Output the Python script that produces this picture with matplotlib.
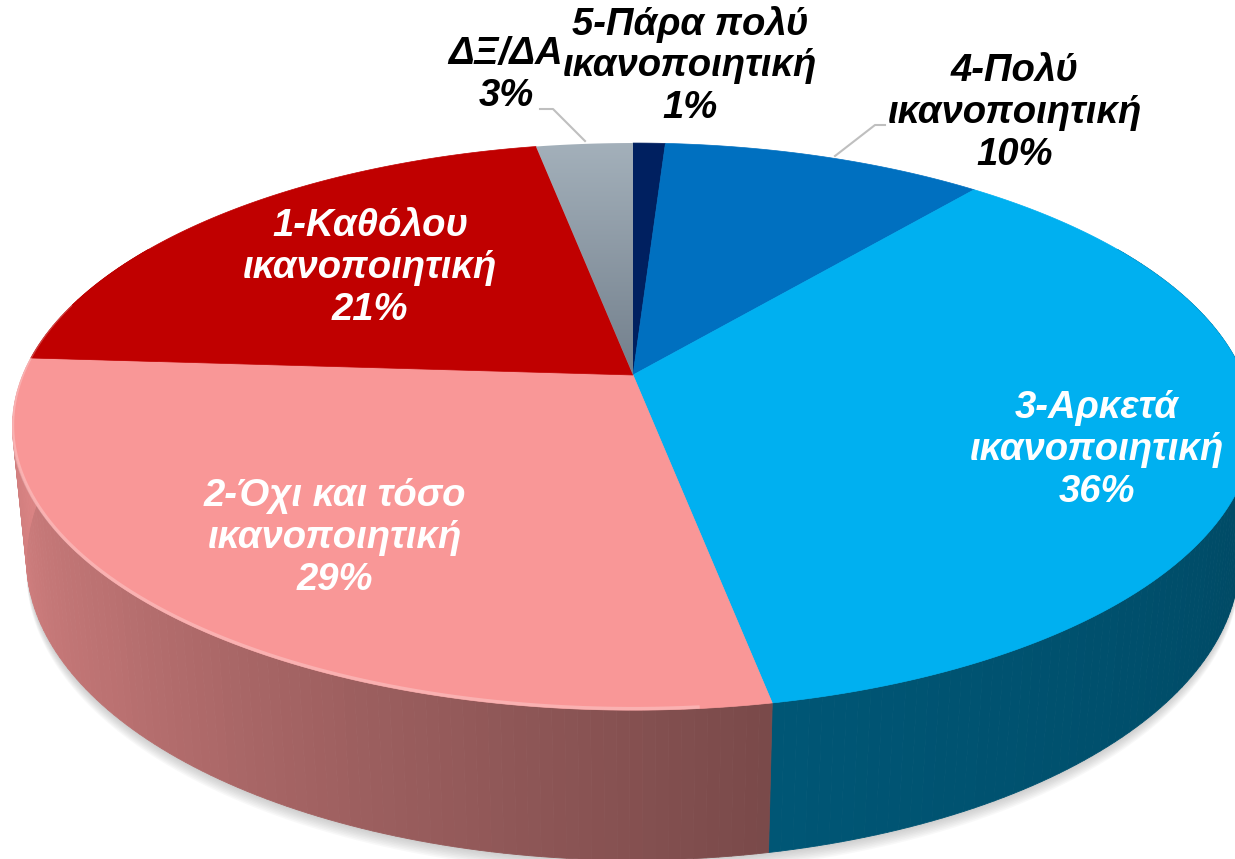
import numpy as np
import matplotlib
matplotlib.use('Agg')
import matplotlib.pyplot as plt
from matplotlib.patches import Polygon

# data, clockwise from 12 o'clock
categories = ['5-Πάρα πολύ\nικανοποιητική', '4-Πολύ\nικανοποιητική', '3-Αρκετά\nικανοποιητική',
              '2-Όχι και τόσο\nικανοποιητική', '1-Καθόλου\nικανοποιητική', 'ΔΞ/ΔΑ']
values = [1, 10, 36, 29, 21, 3]
pct_labels = ['1%', '10%', '36%', '29%', '21%', '3%']

colors = ['#002060', '#0070C0', '#00B0F0', '#F99797', '#C00000', '#9AA9B5']
text_colors = ['black', 'black', 'white', 'white', 'white', 'black']
# label centres in pixels (layout)
label_pos = [(690, 66), (1015, 113), (1097, 450), (335, 538), (370, 268), (506, 75)]

# camera for the 3d look
elev = np.radians(26.7)
D, S, CX, CY, H = 4.91, 2996.0, 633.0, 375.0, 0.245
ce, se = np.cos(elev), np.sin(elev)


def project(phi, r=1.0, z=0.0):
    X = r * np.sin(phi)
    Y = r * np.cos(phi)
    rely = Y + D * ce
    relz = z - D * se
    depth = rely * ce - relz * se
    up = rely * se + relz * ce
    return CX + S * X / depth, CY - S * up / depth


def side_shade(phi):
    return np.interp(np.degrees(phi), [90, 170, 230, 270], [0.40, 0.49, 0.75, 0.88])


W, Hpx = 1235, 859
fig = plt.figure(figsize=(W / 100, Hpx / 100), dpi=100)
ax = fig.add_axes([0, 0, 1, 1])
ax.set_xlim(0, W)
ax.set_ylim(Hpx, 0)
ax.axis('off')

fracs = np.array(values) / np.sum(values)
edges = np.concatenate([[0], np.cumsum(fracs)]) * 2 * np.pi

# soft shadow under the pie
ph = np.linspace(np.radians(70), np.radians(290), 200)
bx, by = project(ph, 1.0, -H)
for k in range(8):
    off = 2 + k * 1.6
    ax.add_patch(Polygon(np.column_stack([np.r_[bx, bx[::-1]], np.r_[by + off, by[::-1] - 40]]),
                         closed=True, facecolor='#808080', edgecolor='none', alpha=0.05, zorder=1))

# side walls
for i in range(len(values)):
    a, b = edges[i], edges[i + 1]
    lo, hi = max(a, np.radians(60)), min(b, np.radians(300))
    if hi <= lo:
        continue
    n = max(2, int(np.degrees(hi - lo)) + 1)
    ts = np.linspace(lo, hi, n)
    base = np.array(matplotlib.colors.to_rgb(colors[i]))
    for t0, t1 in zip(ts[:-1], ts[1:]):
        x0, y0 = project(t0)
        x1, y1 = project(t1)
        x2, y2 = project(t1, 1.0, -H)
        x3, y3 = project(t0, 1.0, -H)
        c = np.clip(base * side_shade((t0 + t1) / 2), 0, 1)
        ax.add_patch(Polygon([(x0, y0), (x1, y1), (x2, y2), (x3, y3)], closed=True,
                             facecolor=c, edgecolor=c, linewidth=0.6, zorder=2))

# top face
for i in range(len(values)):
    a, b = edges[i], edges[i + 1]
    ts = np.linspace(a, b, max(3, int(np.degrees(b - a)) * 2))
    rx, ry = project(ts)
    pts = np.column_stack([np.r_[CX, rx], np.r_[CY, ry]])
    if categories[i] == 'ΔΞ/ΔΑ':
        poly = Polygon(pts, closed=True, facecolor='none', edgecolor='none', zorder=3)
        ax.add_patch(poly)
        grad = np.linspace(0, 1, 100)[:, None]
        top = np.array([0.64, 0.69, 0.73])
        bot = np.array([0.45, 0.50, 0.55])
        img = top[None, None, :] * (1 - grad[:, :, None]) + bot[None, None, :] * grad[:, :, None]
        im = ax.imshow(img, extent=[pts[:, 0].min(), pts[:, 0].max(), CY, pts[:, 1].min()],
                       aspect='auto', zorder=3)
        im.set_clip_path(poly)
    else:
        ax.add_patch(Polygon(pts, closed=True, facecolor=colors[i], edgecolor=colors[i],
                             linewidth=0.5, zorder=3))

# light bevel along the front rim of the pink slice
ph = np.linspace(np.radians(175), np.radians(285), 200)
fx, fy = project(ph)
ax.plot(fx, fy - 1.5, color='white', alpha=0.25, lw=2.5, zorder=4)
ax.set_xlim(0, W)
ax.set_ylim(Hpx, 0)

# leader lines
ax.plot([540, 553, 585], [109, 109, 141], color='#BFBFBF', lw=1.5, zorder=5)
ax.plot([885, 875, 835], [125, 125, 156], color='#BFBFBF', lw=1.5, zorder=5)

for i in range(len(values)):
    ax.text(label_pos[i][0], label_pos[i][1], categories[i] + '\n' + pct_labels[i],
            ha='center', va='center', color=text_colors[i], fontsize=27.5,
            family='Liberation Sans', weight='bold', style='italic',
            linespacing=1.2, zorder=6)

fig.savefig('out.png', dpi=100)
